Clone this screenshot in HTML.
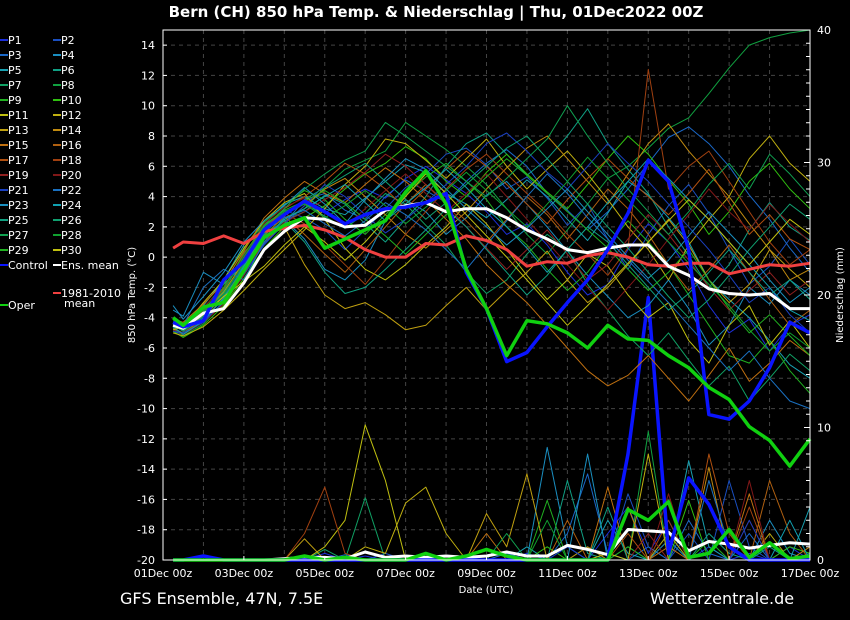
<!DOCTYPE html>
<html><head><meta charset="utf-8"><style>
body{margin:0;background:#000;width:850px;height:620px;overflow:hidden}
svg{display:block;font-family:"DejaVu Sans","Liberation Sans",sans-serif}
</style></head><body>
<svg id="chart" width="850" height="620" viewBox="0 0 850 620">
<rect x="0" y="0" width="850" height="620" fill="#000"/>
<text x="436" y="17" fill="#fff" font-size="15" font-weight="bold" text-anchor="middle">Bern  (CH)  850 hPa Temp. &amp; Niederschlag | Thu, 01Dec2022 00Z</text>
<g id="grid"></g>
<g id="precip"></g>
<g id="temp"></g>
<rect x="163" y="30" width="647" height="530" fill="none" stroke="#fff" stroke-width="1"/>
<g id="axes"></g>
<text transform="translate(135,295) rotate(-90)" fill="#fff" font-size="10" text-anchor="middle">850 hPa Temp. (°C)</text>
<text transform="translate(843,295) rotate(-90)" fill="#fff" font-size="10" text-anchor="middle">Niederschlag (mm)</text>
<text x="486" y="593" fill="#fff" font-size="10" text-anchor="middle">Date (UTC)</text>
<text x="120" y="604" fill="#fff" font-size="16">GFS Ensemble, 47N, 7.5E</text>
<text x="650" y="604" fill="#fff" font-size="16">Wetterzentrale.de</text>
<g id="legend"></g>
</svg>
<script>
const hours=[6,12,24,36,48,60,72,84,96,108,120,132,144,156,168,180,192,204,216,228,240,252,264,276,288,300,312,324,336,348,360,372,384];
const xTickLabels=["01Dec 00z","03Dec 00z","05Dec 00z","07Dec 00z","09Dec 00z","11Dec 00z","13Dec 00z","15Dec 00z","17Dec 00z"];
const tempTicks=[14,12,10,8,6,4,2,0,-2,-4,-6,-8,-10,-12,-14,-16,-18,-20];
const precipTicks=[0,10,20,30,40];
const controlTemp=[-4.3,-4.6,-4.2,-1.5,-0.3,1.8,2.8,3.7,3.0,2.2,2.8,3.2,3.3,3.6,4.2,-1.0,-3.4,-6.9,-6.3,-4.6,-3.0,-1.5,0.5,2.9,6.4,5.0,0.5,-10.4,-10.7,-9.5,-7.3,-4.3,-5.0];
const operTemp=[-4.0,-4.5,-3.3,-3.0,-0.9,1.3,2.1,2.6,0.6,1.2,1.8,2.4,4.3,5.7,3.5,-0.8,-3.4,-6.5,-4.2,-4.4,-5.0,-6.0,-4.5,-5.4,-5.5,-6.5,-7.3,-8.6,-9.4,-11.2,-12.1,-13.8,-12.0];
const meanTemp=[-4.5,-4.7,-3.7,-3.4,-1.7,0.5,1.7,2.6,2.5,2.0,2.1,3.1,3.4,3.6,3.0,3.2,3.2,2.6,1.8,1.2,0.5,0.3,0.6,0.8,0.8,-0.6,-1.2,-2.1,-2.4,-2.5,-2.4,-3.4,-3.4];
const climTemp=[0.6,1.0,0.9,1.4,0.9,1.7,1.9,2.1,1.8,1.3,0.5,0.0,0.0,0.9,0.8,1.4,1.1,0.5,-0.6,-0.3,-0.4,0.1,0.3,0.0,-0.5,-0.6,-0.4,-0.4,-1.1,-0.8,-0.5,-0.6,-0.4];
const controlPrecip=[0,0,0.3,0,0,0,0,0,0,0,0,0,0,0,0,0,0,0,0,0,0,0,0,8,19.8,0.5,6.2,4.2,1,0,0,0,0];
const operPrecip=[0,0,0,0,0,0,0,0.3,0,0.2,0,0,0,0.5,0,0.3,0.8,0.3,0,0,0,0,0,3.8,3.0,4.4,0.2,0.5,2.3,0.2,1.3,0.1,0.3];
const meanPrecip=[0,0,0,0,0,0,0.1,0.2,0.2,0.1,0.6,0.2,0.3,0.2,0.3,0.2,0.3,0.6,0.3,0.3,1.1,0.8,0.4,2.3,2.2,2.1,0.7,1.4,1.2,0.9,1.1,1.3,1.2];
const memberColors=["#1c2fd8","#1a4fc0","#1a68c8","#1a8ec0","#18a0b0","#10a084","#10a064","#10a040","#20b020","#30c010","#c0c010","#c0b010","#c0a010","#c08a10","#c07010","#b06010","#b05010","#a04010","#902020","#801818","#1a40c0","#1a70c0","#1a90c0","#10a0b0","#10a080","#10a070","#10a050","#10a030","#20b020","#c0c010"];
const m01=[-4.6,-4.8,-3.9,-2.5,-0.5,1.6,2.8,3.5,2.9,3.8,4.5,3.9,5.2,6.0,5.1,4.2,3.0,1.5,2.2,0.8,-1.0,-2.5,-1.8,0.5,2.2,1.0,-0.8,-3.2,-5.0,-4.1,-6.2,-4.5,-3.8];
const m02=[-4.4,-4.9,-3.6,-2.0,0.2,2.0,3.1,2.6,1.8,0.5,1.8,3.2,4.6,5.5,6.8,7.2,6.1,4.5,5.3,3.9,2.1,3.5,1.2,-0.8,1.5,3.4,4.8,2.9,0.5,-1.8,-0.6,1.2,-0.5];
const m03=[-4.9,-5.1,-4.2,-3.0,-1.2,0.9,2.2,3.8,4.2,3.1,2.5,4.0,5.1,4.4,3.6,5.0,6.2,7.1,6.0,4.2,3.1,1.8,3.0,4.5,6.2,7.9,8.6,7.5,6.0,4.1,2.5,0.6,-1.0];
const m04=[-3.5,-3.9,-1.0,-1.8,-0.5,1.8,2.5,1.2,-0.8,-1.5,-0.2,2.4,3.8,3.0,1.5,2.6,4.1,5.0,3.5,2.0,0.4,-1.2,-2.6,-4.0,-3.2,-1.5,-3.4,-5.8,-4.5,-2.0,-3.1,-1.5,-2.5];
const m05=[-4.7,-4.5,-3.2,-1.5,0.8,2.1,3.5,4.0,3.2,2.8,3.9,5.0,6.1,5.6,4.2,3.5,2.6,3.8,5.1,4.0,2.5,1.1,2.9,5.0,4.1,2.6,1.0,-1.5,-2.8,-4.0,-5.5,-7.1,-8.0];
const m06=[-4.8,-5.0,-4.0,-2.8,-1.0,1.2,2.4,3.0,4.1,3.5,2.2,1.0,2.5,4.0,6.0,7.5,8.2,6.8,5.4,6.5,8.0,9.8,7.5,5.8,4.2,2.0,0.1,-2.0,-0.5,1.8,3.6,2.0,1.1];
const m07=[-4.5,-4.7,-3.8,-2.2,0.0,1.9,3.0,3.6,2.7,1.9,2.9,4.2,3.5,2.1,0.8,-1.0,-2.4,-1.5,0.2,1.5,0.5,-1.8,-3.5,-5.2,-6.5,-5.0,-6.8,-8.5,-7.2,-9.5,-8.0,-6.4,-7.5];
const m08=[-4.6,-5.2,-4.4,-2.9,-0.6,1.5,2.6,3.2,4.6,5.8,6.4,7.0,8.9,8.0,7.1,6.0,4.8,3.2,1.5,0.2,1.8,3.5,5.2,6.0,7.2,8.5,9.2,10.8,12.5,14.0,14.5,14.8,15.0];
const m09=[-4.2,-4.4,-3.4,-1.8,0.5,2.3,3.4,4.4,3.8,2.5,1.5,2.8,4.1,5.3,6.2,5.0,3.8,2.0,0.8,-0.8,-2.2,-1.0,0.8,2.4,1.0,-0.5,-2.5,-4.5,-6.5,-7.0,-5.5,-7.5,-9.0];
const m10=[-4.9,-5.3,-4.5,-3.2,-1.4,0.6,2.0,2.6,3.4,4.5,5.5,6.2,7.3,6.5,5.0,4.0,5.6,6.8,5.5,4.3,3.2,4.8,6.5,8.0,6.8,5.1,3.5,1.5,3.0,5.0,6.2,4.5,3.2];
const m11=[-4.3,-4.6,-3.0,-1.5,0.6,2.4,3.6,4.2,2.5,0.6,-0.8,-1.5,-0.5,0.8,2.0,3.5,2.2,0.5,-1.2,-2.8,-1.5,0.2,-0.6,-2.5,-4.0,-3.0,-5.5,-7.0,-4.5,-3.2,-5.8,-4.2,-6.0];
const m12=[-5.0,-5.2,-4.6,-3.5,-2.2,-0.8,0.5,1.8,3.2,4.8,6.0,7.8,7.5,6.4,5.2,6.5,7.8,6.0,4.5,5.8,7.0,5.5,3.8,2.0,0.5,-1.5,0.8,2.5,4.0,6.5,8.0,6.2,5.0];
const m13=[-4.4,-4.9,-3.7,-2.3,-0.3,1.2,2.0,-0.5,-2.5,-3.4,-3.0,-3.8,-4.8,-4.5,-3.2,-2.0,-3.5,-2.2,-1.0,0.4,-1.5,-3.0,-2.0,-0.5,1.0,2.5,0.8,-1.5,-3.0,-1.8,0.5,-0.8,-2.0];
const m14=[-4.8,-4.6,-3.9,-2.6,-0.9,1.0,2.2,3.4,4.5,5.2,4.0,2.8,1.5,0.6,1.8,3.0,4.5,5.9,7.2,8.0,6.5,5.0,3.5,5.5,7.5,8.8,7.0,5.5,4.0,2.2,0.5,-1.5,-0.8];
const m15=[-4.1,-4.3,-3.1,-1.7,0.4,2.6,3.9,5.0,4.2,3.6,4.8,5.9,5.0,3.8,2.5,1.2,-0.5,-1.8,-3.0,-4.5,-6.0,-7.5,-8.5,-7.8,-6.5,-8.0,-9.5,-7.8,-6.0,-8.2,-7.0,-5.5,-6.5];
const m16=[-4.7,-5.0,-4.1,-2.7,-0.8,1.4,2.7,1.5,0.2,-1.0,0.5,2.0,3.5,4.8,3.6,2.4,1.0,2.5,4.0,2.8,1.2,2.8,4.5,3.2,1.5,-0.5,-2.2,-0.8,0.8,-1.0,-2.8,-4.5,-3.5];
const m17=[-4.5,-4.8,-3.5,-2.1,0.3,1.8,3.2,4.0,5.0,6.2,5.5,4.5,3.2,4.5,5.8,7.0,6.0,4.8,3.5,2.2,3.8,5.2,6.5,5.2,4.0,2.8,4.2,5.8,3.6,1.5,2.8,1.2,0.5];
const m18=[-4.6,-4.5,-3.6,-2.4,-0.4,1.7,2.9,2.2,0.8,-0.5,-1.8,-0.2,1.5,3.0,4.5,5.8,6.8,5.5,4.2,3.0,1.5,0.2,-1.2,0.6,12.4,4.5,6.0,7.0,5.0,3.0,1.0,-0.5,0.5];
const m19=[-4.8,-5.1,-4.3,-3.1,-1.2,1.0,2.3,3.0,3.8,4.6,5.6,6.8,6.0,4.8,3.5,2.0,0.6,-0.8,0.5,1.8,0.2,-1.5,-0.5,1.2,2.8,1.5,-0.2,-2.0,-3.5,-2.2,-1.0,-2.5,-1.5];
const m20=[-4.4,-4.7,-3.3,-2.0,0.1,2.2,3.3,3.9,3.0,2.0,3.2,4.4,5.5,4.2,3.0,4.2,5.5,4.0,2.5,1.0,-0.5,-2.0,-3.5,-2.0,-0.5,1.2,2.8,4.5,3.0,1.8,3.5,2.2,1.0];
const m21=[-4.9,-5.0,-4.3,-2.9,-1.1,0.8,2.2,3.4,4.8,4.0,2.8,1.6,2.5,3.6,4.8,6.0,7.5,8.2,7.0,5.6,4.5,6.0,7.5,6.2,5.0,3.5,2.0,0.5,-1.2,-3.0,-2.0,-3.8,-5.0];
const m22=[-4.3,-4.5,-2.0,-0.8,-1.5,1.0,2.6,3.1,2.2,1.4,2.4,3.6,2.8,1.8,0.5,-0.8,0.8,2.4,4.0,5.5,4.2,2.6,1.2,-0.2,-1.6,-3.0,-4.5,-6.0,-7.5,-6.2,-8.0,-9.5,-10.0];
const m23=[-3.2,-4.1,-2.6,-1.0,1.0,2.4,3.4,4.6,3.5,2.2,3.8,5.2,6.5,5.8,4.5,3.2,2.0,0.8,1.9,3.2,4.5,3.0,1.5,0.0,-1.4,-0.2,1.4,3.0,1.6,0.2,-1.5,-3.0,-2.0];
const m24=[-4.6,-5.1,-4.2,-2.7,-0.6,1.3,2.5,3.2,4.0,4.8,3.6,2.4,3.5,4.6,5.8,4.6,3.2,2.0,0.6,-1.0,0.5,2.0,3.6,5.0,6.5,5.2,3.8,2.5,1.0,-0.5,-2.0,-3.5,-4.2];
const m25=[-4.5,-4.9,-3.9,-2.6,-0.7,1.5,2.4,1.0,-1.0,-2.4,-2.0,-0.8,0.5,1.8,3.2,2.0,0.5,-1.0,-2.5,-1.2,0.5,2.0,1.0,-0.5,-2.0,-3.5,-2.4,-1.0,0.5,-1.0,-2.5,-1.5,-2.8];
const m26=[-4.7,-4.6,-3.7,-2.4,-0.5,1.6,2.8,3.8,4.6,5.4,6.2,5.0,3.8,2.5,3.6,4.8,6.0,7.2,8.0,6.5,5.0,3.5,2.0,0.6,-1.0,-2.6,-4.0,-2.8,-1.2,0.5,2.0,3.5,2.5];
const m27=[-4.5,-4.8,-3.6,-2.2,0.0,2.0,3.2,4.5,5.5,6.4,7.0,8.9,8.0,7.0,6.0,5.0,4.0,5.2,6.5,7.8,10.0,8.0,6.2,4.5,3.0,1.5,3.0,4.8,6.2,4.5,6.8,5.5,4.0];
const m28=[-4.6,-4.7,-3.8,-2.5,-0.4,1.8,3.0,3.5,2.6,3.4,4.4,3.4,2.2,3.3,4.4,5.6,4.4,3.2,2.0,3.5,5.0,6.6,5.2,3.8,2.4,1.0,-0.4,-1.8,-3.2,-4.8,-6.2,-5.0,-6.0];
const m29=[-4.4,-4.6,-3.5,-2.0,0.2,2.1,3.1,3.7,4.4,3.6,2.5,1.4,0.2,1.5,2.8,4.0,5.3,6.5,5.4,4.2,3.0,1.8,0.6,-0.8,-2.2,-1.0,0.5,-1.5,-3.4,-5.0,-3.8,-5.2,-6.5];
const m30=[-4.8,-4.6,-3.8,-2.6,-1.6,-0.6,0.8,2.0,1.0,-0.2,1.0,2.5,4.0,5.5,4.2,2.8,1.4,0.0,-1.5,-3.0,-4.5,-3.2,-1.8,-0.4,1.0,2.4,3.8,2.5,1.0,-0.5,1.0,2.5,1.5];
const memberTemps=[m01,m02,m03,m04,m05,m06,m07,m08,m09,m10,m11,m12,m13,m14,m15,m16,m17,m18,m19,m20,m21,m22,m23,m24,m25,m26,m27,m28,m29,m30];
const p01=[0,0,0,0,0,0,0,0,0.5,0,0.3,0,0,0,0,0.2,0,0,0.5,0,1,0,2,4,0.5,3,0,1,0,0.5,0,1,0];
const p02=[0,0,0,0,0,0,0,0,0,0,0,0.5,0,0,0.3,0,0,0,0,0,0,0,0,5,1,0,2,0,6,1,0,0,0.5];
const p03=[0,0,0,0,0,0,0,0,0,0.4,0,0,0,0,0,0,0,0.5,0,0,2,6.5,0.5,0,1,0,3,0.5,0,2,0,0,0];
const p04=[0,0,0,0,0,0,0,0,0,0,0,0,0,0,0,0,0,0,0,8.5,1,0,0,0,0,1.5,0,0,0,0,3,0.5,0];
const p05=[0,0,0,0,0,0,0,0,0,0,0,0,0,0.5,0,0,0,0,1,0,0,0,3,0.5,0,0,7.5,1,0,0,0,0,4];
const p06=[0,0,0,0,0,0,0,0,0,0,0,0,0.3,0,0,0,0,0,0,0,6,0.5,0,1,0,0,0,2,0.5,0,1,0,0];
const p07=[0,0,0,0,0,0,0,0,0.8,0,4.7,0,0,0,0,0,0,0,0,0,0,1,0,0,0,2,0,0,0,0,0,0,0];
const p08=[0,0,0,0,0,0,0,0,0,0,0,0,0,0,0,0,0,0,0,0,0,0,0,0,9.7,0,0,0,0,0,0,0,0];
const p09=[0,0,0,0,0,0,0,0,0,0,0,0,0,0,0,0,0,0,0,4.5,0,0,0,1,0,0,0,1.5,0,0,0,0,0];
const p10=[0,0,0,0,0,0,0,0,0,0,0,0,0,0,0,0,0,0,0,1,0,0,0,0,0,0,4.5,0,0,0,0,1,0.5];
const p11=[0,0,0,0,0,0,0,0,1,3,10.2,6,0,0,0,0,0,0,0,0,0,0,0.5,0,0,0,0,0,0,0,0,0,0];
const p12=[0,0,0,0,0,0,0,0,0,0,1,0.5,4.3,5.5,2,0,0,0,0,0,0,0,0,0,8,0,0,0,0,0,2,0,0];
const p13=[0,0,0,0,0,0,0,1.6,0,0,0,0,0,0,0,0,3.5,1,6.5,0,0,0,0,0,0,2,0,0,0,0,0,0,0];
const p14=[0,0,0,0,0,0,0,0,0,0,0,0,0,0,0,0,0,0,0,0,0,1,0,4,0,0,0,7,0,0,0,0,1];
const p15=[0,0,0,0,0,0,0,0,0,0,0,0,0,0,0,0,2,0,0,0,0,0,5.5,0,0,1,0,0,0,5,0,0,0];
const p16=[0,0,0,0,0,0,0,0,0,0,0,0,0,0,0,0,0,0,0,0,3,0,0,0,0,0,0,0,0,0,6,2,0];
const p17=[0,0,0,0,0,0,0,0,0,0,0,0,0,0,0,0,0,0,0,0,0,0,0,2,0,0,0,8,2,0,0,0,0];
const p18=[0,0,0,0,0,0,0,2,5.5,0.5,0,0,0,0,0,0,0,0,0,0,0,0,0,0,0,3,0,0,0,4,0,0,0];
const p19=[0,0,0,0,0,0,0,0,0,0,0,0,0,0,0,0,0,0,0,0,0,0,0,0,2,0,0,0,0,3,0,0,0];
const p20=[0,0,0,0,0,0,0,0,0,0,0,0,0,0,0,0,0,0,0,0,0,0,0,0,0,5,0,0,0,6,0,0,0];
const p21=[0,0,0,0,0,0,0,0,0,0,0,0,0,0,0,0,0,0,0,0,1,0,0,0,0,0,0,0,0,3,0,0,0];
const p22=[0,0,0,0,0,0,0,0,0,0,0,0,0,0,0,0,0,0,0,0,0,0,0,0,0,0,0,6,1,0,0,0,0];
const p23=[0,0,0,0,0,0,0,0,0,0,0,0,0,0,0,0,0,0,0,0,0,8,0,0,0,0,0,0,0,0,0,0,0];
const p24=[0,0,0,0,0,0,0,0,0,0,0,0,0,0,0,0,0,0,0,0,0,0,0,0,0,0,0,0,0,0,0,3,0];
const p25=[0,0,0,0,0,0,0,0,0,0,0,0,0,0,0,0,0,0,0,0,0,0,4,0,0,0,0,0,0,0,0,0,0];
const p26=[0,0,0,0,0,0,0,0,0,0,0,0,0,0,0,0,0,0,0,0,0,0,0,0,0,0,0,0,0,0,0,0,0];
const p27=[0,0,0,0,0,0,0,0,0,0,0,0,0,0,0,0,0,2,0,0,0,0,0,0,0,0,0,0,0,0,0,0,0];
const p28=[0,0,0,0,0,0,0,0,0,0,0,0,0,0,0,0,0,0,0,3,0,0,0,0,0,0,0,0,0,0,0,0,0];
const p29=[0,0,0,0,0,0,0,0,0,0,0,0,0,0,0,0,0,0,0,0,0,0,0,0,0,0,0,0,0,0,0,0,0];
const p30=[0,0,0,0,0,0,0,0,0,0,0,0,0,0,0,0,0,0,0,0,0,0,0,0,0,0,0,0,0,0,0,0,0];
const memberPrecips=[p01,p02,p03,p04,p05,p06,p07,p08,p09,p10,p11,p12,p13,p14,p15,p16,p17,p18,p19,p20,p21,p22,p23,p24,p25,p26,p27,p28,p29,p30];

const NS="http://www.w3.org/2000/svg";
const X0=163,X1=810,Y0=30,Y1=560;
function xScale(h){return X0+(h/384)*(X1-X0);}
function yTemp(t){return Y1-(t+20)/35*(Y1-Y0);}
function yPrecip(p){return Y1-p/40*(Y1-Y0);}
function mk(tag,parent){const e=document.createElementNS(NS,tag);parent.appendChild(e);return e;}
const grid=document.getElementById('grid'),axes=document.getElementById('axes');
for(let d=1;d<16;d++){
  const l=mk('line',grid);
  
  
  const x=xScale(d*24);
  l.setAttribute('x1',x);l.setAttribute('x2',x);l.setAttribute('y1',Y0);l.setAttribute('y2',Y1);
  l.setAttribute('stroke','#444');l.setAttribute('stroke-dasharray','4,4');
}
tempTicks.forEach(t=>{
  const y=yTemp(t);
  if(t>-20){
    const l=mk('line',grid);
    
    
    l.setAttribute('x1',X0);l.setAttribute('x2',X1);l.setAttribute('y1',y);l.setAttribute('y2',y);
    l.setAttribute('stroke','#444');l.setAttribute('stroke-dasharray','4,4');
  }
  const tk=mk('line',axes);
  
  
  tk.setAttribute('x1',X0);tk.setAttribute('x2',X0+4);tk.setAttribute('y1',y);tk.setAttribute('y2',y);tk.setAttribute('stroke','#fff');
  const tx=mk('text',axes);
  
  
  tx.setAttribute('x',155);tx.setAttribute('y',y+4);tx.setAttribute('fill','#fff');tx.setAttribute('font-size','11');tx.setAttribute('text-anchor','end');
  tx.textContent=t;
});
for(let p=0;p<=40;p++){
  const y=yPrecip(p);
  const tk=mk('line',axes);
  
  
  tk.setAttribute('x1',X1);tk.setAttribute('x2',X1-(p%10===0?6:4));tk.setAttribute('y1',y);tk.setAttribute('y2',y);tk.setAttribute('stroke','#fff');
}
precipTicks.forEach(p=>{
  const tx=mk('text',axes);
  
  
  tx.setAttribute('x',817);tx.setAttribute('y',yPrecip(p)+4);tx.setAttribute('fill','#fff');tx.setAttribute('font-size','11');
  tx.textContent=p;
});
xTickLabels.forEach((lab,i)=>{
  const x=xScale(i*48);
  const tk=mk('line',axes);
  
  
  tk.setAttribute('x1',x);tk.setAttribute('x2',x);tk.setAttribute('y1',Y1);tk.setAttribute('y2',Y1-4);tk.setAttribute('stroke','#fff');
  const tx=mk('text',axes);
  
  
  tx.setAttribute('x',x);tx.setAttribute('y',577);tx.setAttribute('fill','#fff');tx.setAttribute('font-size','11');tx.setAttribute('text-anchor','middle');
  tx.textContent=lab;
});
function line(parent,vals,yf,color,w,name){
  const pl=mk('polyline',parent);
  
  
  pl.setAttribute('points',vals.map((v,i)=>xScale(hours[i]).toFixed(1)+','+yf(v).toFixed(1)).join(' '));
  pl.setAttribute('fill','none');pl.setAttribute('stroke',color);pl.setAttribute('stroke-width',w);pl.setAttribute('stroke-linejoin','round');
}
const pg=document.getElementById('precip'),tg=document.getElementById('temp');
memberPrecips.forEach((a,i)=>line(pg,a,yPrecip,memberColors[i],1,'precip-member-p'+(i+1)));
memberTemps.forEach((a,i)=>line(tg,a,yTemp,memberColors[i],1,'temp-member-p'+(i+1)));
line(pg,meanPrecip,yPrecip,'#fff',3,'precip-ens-mean');
line(pg,controlPrecip,yPrecip,'#0a14ff',3.5,'precip-control');
line(pg,operPrecip,yPrecip,'#10d010',3.5,'precip-oper');
line(tg,climTemp,yTemp,'#f04040',3,'temp-climatology');
line(tg,meanTemp,yTemp,'#fff',3,'temp-ens-mean');
line(tg,controlTemp,yTemp,'#0a14ff',3.5,'temp-control');
line(tg,operTemp,yTemp,'#10d010',3.5,'temp-oper');
const lg=document.getElementById('legend');
const labels=[];for(let i=1;i<=30;i++)labels.push('P'+i);
labels.forEach((lab,i)=>{
  const col=i%2,row=Math.floor(i/2);
  const x=col?53:0,y=40+row*15;
  const l=mk('line',lg);
  
  
  l.setAttribute('x1',x);l.setAttribute('x2',x+8);l.setAttribute('y1',y);l.setAttribute('y2',y);l.setAttribute('stroke',memberColors[i]);l.setAttribute('stroke-width','2');
  const t=mk('text',lg);
  
  
  t.setAttribute('x',x+8);t.setAttribute('y',y+4);t.setAttribute('fill','#fff');t.setAttribute('font-size','11');
  t.textContent=lab;
});
[[0,265,'#0a14ff','Control'],[53,265,'#fff','Ens. mean'],[53,293,'#f04040','1981-2010'],[0,305,'#10d010','Oper']].forEach(e=>{
  const l=mk('line',lg);
  
  
  l.setAttribute('x1',e[0]);l.setAttribute('x2',e[0]+8);l.setAttribute('y1',e[1]);l.setAttribute('y2',e[1]);l.setAttribute('stroke',e[2]);l.setAttribute('stroke-width','2');
  const t=mk('text',lg);
  
  
  t.setAttribute('x',e[0]+8);t.setAttribute('y',e[1]+4);t.setAttribute('fill','#fff');t.setAttribute('font-size','11');
  t.textContent=e[3];
});
const mt=mk('text',lg);


mt.setAttribute('x',64);mt.setAttribute('y',307);mt.setAttribute('fill','#fff');mt.setAttribute('font-size','11');
mt.textContent='mean';
</script>
</body></html>
